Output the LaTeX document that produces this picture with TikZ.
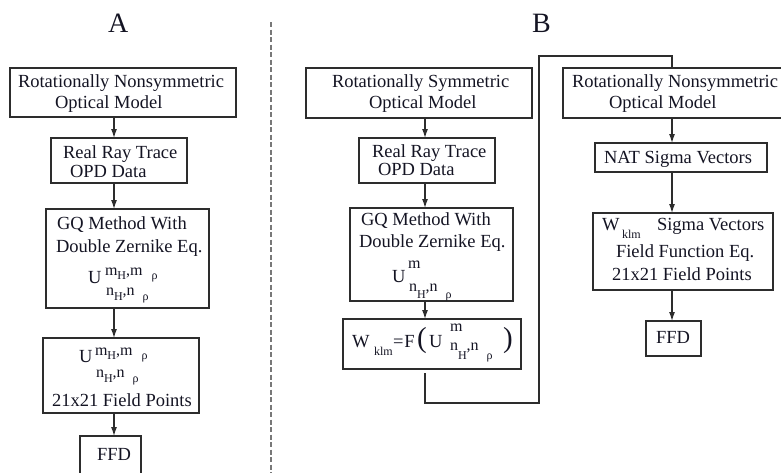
\documentclass[tikz,border=0pt]{standalone}
\usepackage{fontspec}
\setmainfont{Liberation Serif}
\usetikzlibrary{arrows.meta}
\definecolor{linecol}{RGB}{45,45,45}
\definecolor{txtcol}{RGB}{20,20,35}
\definecolor{dashcol}{RGB}{120,120,120}
\newcommand\fmain{\fontsize{18.5}{21}\selectfont}
\newcommand\fsupz{\fontsize{16}{16}\selectfont}
\newcommand\fsubz{\fontsize{12}{12}\selectfont}
\newcommand\fparen{\fontsize{29}{29}\selectfont}
\newcommand\flab{\fontsize{28}{28}\selectfont}
\newcommand\supmm[1]{{\fsupz m\raisebox{-#1}{\fsubz H},m\hspace{9pt}\raisebox{-#1}{\fsubz ρ}}}
\newcommand\subnn[1]{{\fsupz n\raisebox{-#1}{\fsubz H},n\hspace{8pt}\raisebox{-#1}{\fsubz ρ}}}
\begin{document}
\begin{tikzpicture}[x=1pt,y=-1pt,
  box/.style={draw=linecol, line width=1.3pt, inner sep=0pt, outer sep=0pt},
  t/.style={anchor=base west, inner sep=0pt, outer sep=0pt, text=txtcol, font=\fmain},
  arr/.style={draw=linecol, line width=1.2pt, -{Latex[length=9pt,width=6pt]}},
  wire/.style={draw=linecol, line width=1.2pt},
  sepline/.style={draw=dashcol, line width=1.3pt, dash pattern=on 5pt off 2.5pt}]
\useasboundingbox (0,0) rectangle (781,472);

% labels and separator
\node[t, font=\flab] (la) at (108,32) {A};
\node[t, font=\flab] (lb) at (532,32) {B};
\coordinate (d1) at (271,22);
\coordinate (d2) at (271,474);
\draw[sepline] (d1) -- (d2);

% ---------- column A ----------
\node[box, minimum width=226pt, minimum height=49pt] (a1) at (123,92.5) {};
\node[box, minimum width=136pt, minimum height=45pt] (a2) at (119,160.5) {};
\node[box, minimum width=163pt, minimum height=99pt] (a3) at (127.5,258.5) {};
\node[box, minimum width=156pt, minimum height=75pt] (a4) at (121,375.5) {};
\node[box, minimum width=61pt, minimum height=40pt] (a5) at (110.5,456) {};

\node[t] (a1t1) at (18,87) {Rotationally Nonsymmetric};
\node[t] (a1t2) at (55,108) {Optical Model};
\node[t] (a2t1) at (63,158) {Real Ray Trace};
\node[t] (a2t2) at (70,177) {OPD Data};
\node[t] (a3t1) at (57,229) {GQ Method With};
\node[t] (a3t2) at (56,252) {Double Zernike Eq.};
\node[t] (a3u) at (88,283) {U};
\node[t] (a3sup) at (105,275) {\supmm{4pt}};
\node[t] (a3sub) at (106,295) {\subnn{5pt}};
\node[t] (a4u) at (79,362) {U};
\node[t] (a4sup) at (95,355) {\supmm{4pt}};
\node[t] (a4sub) at (96,377) {\subnn{5pt}};
\node[t] (a4t) at (52,406) {21x21 Field Points};
\node[t] (a5t) at (97,460) {FFD};

\coordinate (ax) at (114,0);
\draw[arr] (a1.south -| ax) -- (a2.north -| ax);
\draw[arr] (a2.south -| ax) -- (a3.north -| ax);
\draw[arr] (a3.south -| ax) -- (a4.north -| ax);
\draw[arr] (a4.south -| ax) -- (a5.north -| ax);

% ---------- column B ----------
\node[box, minimum width=226pt, minimum height=50pt] (b1) at (419,93) {};
\node[box, minimum width=136pt, minimum height=45pt] (b2) at (427,160.5) {};
\node[box, minimum width=163pt, minimum height=93pt] (b3) at (431.5,254.5) {};
\node[box, minimum width=178pt, minimum height=50pt] (b4) at (432,344) {};

\node[t] (b1t1) at (332,87) {Rotationally Symmetric};
\node[t] (b1t2) at (369,108) {Optical Model};
\node[t] (b2t1) at (372,157) {Real Ray Trace};
\node[t] (b2t2) at (378,175) {OPD Data};
\node[t] (b3t1) at (361,225) {GQ Method With};
\node[t] (b3t2) at (359,247) {Double Zernike Eq.};
\node[t] (b3u) at (392,282) {U};
\node[t, font=\fsupz] (b3sup) at (408,268) {m};
\node[t] (b3sub) at (409,291) {\subnn{7pt}};

\node[t] (b4w) at (352,347) {W};
\node[t, font=\fsubz] (b4k) at (374,355) {klm};
\node[t] (b4eq) at (393,347) {=\hspace{1pt}F};
\node[t, font=\fparen] (b4p1) at (417,347) {(};
\node[t] (b4u) at (429,347) {U};
\node[t, font=\fsupz] (b4sup) at (450,331) {m};
\node[t] (b4sub) at (450,350) {\subnn{9pt}};
\node[t, font=\fparen] (b4p2) at (503,347) {)};

\coordinate (bx) at (425,0);
\draw[arr] (b1.south -| bx) -- (b2.north -| bx);
\draw[arr] (b2.south -| bx) -- (b3.north -| bx);
\draw[arr] (b3.south -| bx) -- (b4.north -| bx);

% ---------- right column ----------
\node[box, minimum width=226pt, minimum height=50pt] (r1) at (676,93) {};
\node[box, minimum width=172pt, minimum height=29pt] (r2) at (681,157.5) {};
\node[box, minimum width=180pt, minimum height=77pt] (r3) at (683,251.5) {};
\node[box, minimum width=55pt, minimum height=35pt] (r4) at (673.5,338.5) {};

\node[t] (r1t1) at (572,87) {Rotationally Nonsymmetric};
\node[t] (r1t2) at (609,108) {Optical Model};
\node[t] (r2t) at (604,163) {NAT Sigma Vectors};
\node[t] (r3w) at (602,230) {W};
\node[t, font=\fsubz] (r3k) at (622,238) {klm};
\node[t] (r3t1) at (657,230) {Sigma Vectors};
\node[t] (r3t2) at (616,257) {Field Function Eq.};
\node[t] (r3t3) at (612,280) {21x21 Field Points};
\node[t] (r4t) at (656,343) {FFD};

\coordinate (rx) at (672,0);
\draw[arr] (r1.south -| rx) -- (r2.north -| rx);
\draw[arr] (r2.south -| rx) -- (r3.north -| rx);
\draw[arr] (r3.south -| rx) -- (r4.north -| rx);

% feedback wire from W box to right column
\coordinate (w0) at (425,373);
\coordinate (w1) at (539,403);
\coordinate (w2) at (539,56);
\draw[wire] (w0) -- (w0 |- w1) -- (w1) -- (w2) -- (w2 -| rx) -- (r1.north -| rx);
\end{tikzpicture}
\end{document}
